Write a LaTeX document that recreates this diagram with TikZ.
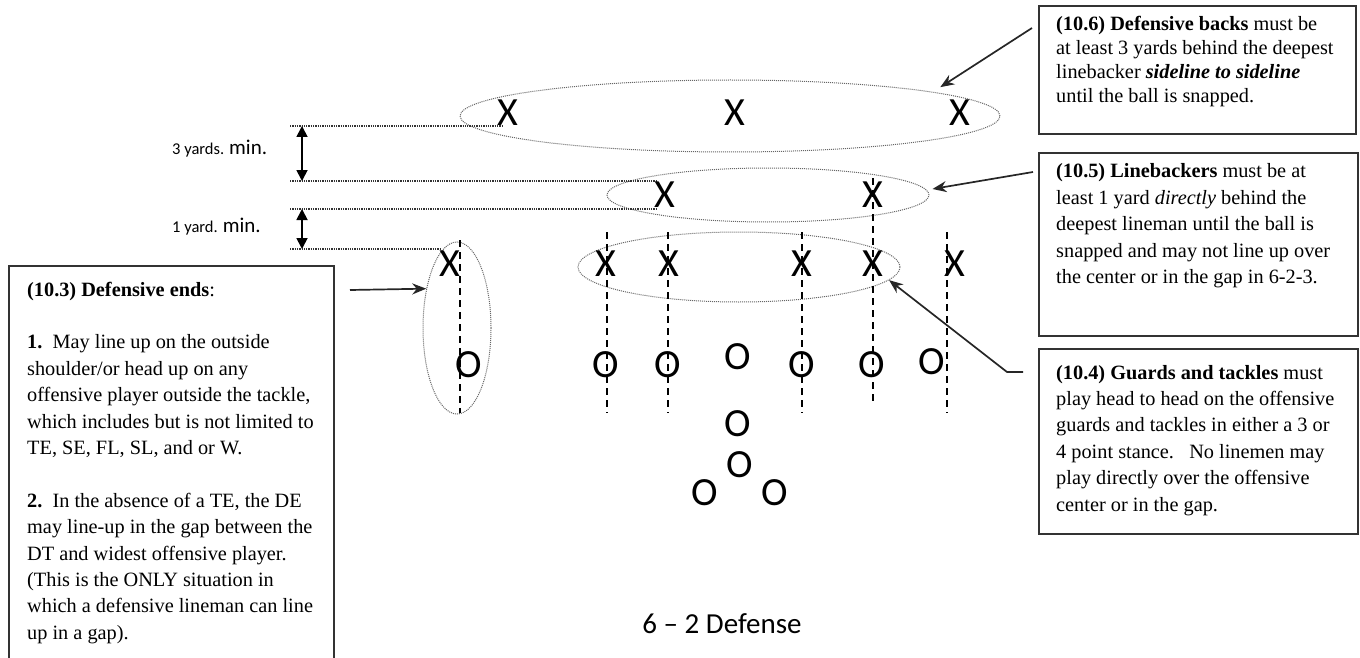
\documentclass[tikz,border=0pt]{standalone}
\usepackage{fontspec}
\setmainfont{Liberation Serif}
\newfontfamily\calib[Ligatures=TeX]{Carlito}
\usetikzlibrary{arrows.meta,shapes.geometric}

\newcommand\rulefont{\fontsize{20.3}{26.4}\selectfont}

\begin{document}
\begin{tikzpicture}[x=1pt,y=-1pt,
  rulebox/.style={draw=black!80, line width=2pt, fill=white, inner sep=0pt, anchor=north west},
  ruletext/.style={anchor=base west, inner sep=0pt},
  player/.style={font=\calib\fontsize{40}{40}\selectfont, inner sep=0pt},
  zone/.style={draw=black!60, line width=1pt, densely dotted, ellipse, inner sep=0pt},
  yardline/.style={draw=black!80, line width=1.3pt, densely dotted},
  lane/.style={draw=black, line width=1.1pt, dash pattern=on 7pt off 5pt},
  pointer/.style={draw=black!85, line width=1.7pt, -{Stealth[length=14pt,width=11pt]}},
  gapmark/.style={draw=black, line width=1.8pt, {Triangle[length=11pt,width=11pt]}-{Triangle[length=11pt,width=11pt]}},
  yardlabel/.style={anchor=base west, inner sep=0pt, font=\calib},
]
\useasboundingbox (0,0) rectangle (1360,658);

% ---- coverage zones ----
\node[zone, minimum width=540, minimum height=72] (dbzone) at (730,116) {};
\node[zone, minimum width=322, minimum height=54] (lbzone) at (768,195) {};
\node[zone, minimum width=322, minimum height=70] (dlzone) at (739,267) {};
\node[zone, minimum width=68, minimum height=172] (dezone) at (457,328) {};

% ---- vertical lanes ----
\foreach \n/\x/\ya/\yb in {l1/460/240/413, l2/607/232/413, l3/668/232/413,
                            l4/802/232/413, l5/873/178/405, l6/947/232/413} {
  \coordinate (\n top) at (\x,\ya);
  \coordinate (\n bot) at (\x,\yb);
  \draw[lane] (\n top) -- (\n bot);
}

% ---- depth reference lines ----
\coordinate (dbline s) at (290,126);  \coordinate (dbline e) at (503,126);
\coordinate (lbtop s)  at (290,181);  \coordinate (lbtop e)  at (657,181);
\coordinate (lbbot s)  at (290,209);  \coordinate (lbbot e)  at (657,209);
\coordinate (dlline s) at (290,249);  \coordinate (dlline e) at (440,249);
\draw[yardline] (dbline s) -- (dbline e);
\draw[yardline] (lbtop s) -- (lbtop e);
\draw[yardline] (lbbot s) -- (lbbot e);
\draw[yardline] (dlline s) -- (dlline e);

\coordinate (g1a) at (302,126); \coordinate (g1b) at (302,181);
\coordinate (g2a) at (302,209); \coordinate (g2b) at (302,249);
\draw[gapmark] (g1a) -- (g1b);
\draw[gapmark] (g2a) -- (g2b);

\node[yardlabel] (lab3) at (172,155) {\fontsize{16.5}{16.5}\selectfont 3 yards. \fontsize{21}{21}\selectfont min.};
\node[yardlabel] (lab1) at (172,232) {\fontsize{16.5}{16.5}\selectfont 1 yard. \fontsize{21}{21}\selectfont min.};

% ---- defense ----
\node[player] (db1) at (508,113) {X};
\node[player] (db2) at (735,113) {X};
\node[player] (db3) at (960,113) {X};
\node[player] (lb1) at (665,195) {X};
\node[player] (lb2) at (873,195) {X};
\node[player] (de1) at (450,264) {X};
\node[player] (dl1) at (606,264) {X};
\node[player] (dl2) at (669,264) {X};
\node[player] (dl3) at (802,264) {X};
\node[player] (dl4) at (873,264) {X};
\node[player] (de2) at (955,264) {X};

% ---- offense ----
\node[player] (o1) at (469,365) {O};
\node[player] (o2) at (606,365) {O};
\node[player] (o3) at (668,365) {O};
\node[player] (oc) at (738,357) {O};
\node[player] (o4) at (802,365) {O};
\node[player] (o5) at (872,365) {O};
\node[player] (o6) at (932,362) {O};
\node[player] (qb) at (738,424) {O};
\node[player] (fb) at (740,465) {O};
\node[player] (hb1) at (705,493) {O};
\node[player] (hb2) at (775,493) {O};

\node[font=\calib\fontsize{29}{29}\selectfont, inner sep=0pt] (title) at (722,624) {6 – 2 Defense};

% ---- rule boxes ----
\node[rulebox, minimum width=325, minimum height=400] (b103) at (8,265) {};
\node[ruletext] (t103) at (27,296) {\parbox[t]{310pt}{\rulefont\raggedright
  \textbf{(10.3) Defensive ends}:\\[26.4pt]
  \textbf{1.}\ \ May line up on the outside\\
  shoulder/or head up on any\\
  offensive player outside the tackle,\\
  which includes but is not limited to\\
  TE, SE, FL, SL, and or W.\\[26.4pt]
  \textbf{2.}\ \ In the absence of a TE, the DE\\
  may line-up in the gap between the\\
  DT and widest offensive player.\\
  (This is the ONLY situation in\\
  which a defensive lineman can line\\
  up in a gap).}};

\node[rulebox, minimum width=317, minimum height=128] (b106) at (1038,5) {};
\node[ruletext] (t106) at (1056,31) {\parbox[t]{300pt}{\fontsize{20.3}{24}\selectfont\raggedright
  \textbf{(10.6) Defensive backs} must be\\
  at least 3 yards behind the deepest\\
  linebacker \textbf{\textit{sideline to sideline}}\\
  until the ball is snapped.}};

\node[rulebox, minimum width=319, minimum height=183] (b105) at (1038,152) {};
\node[ruletext] (t105) at (1056,178) {\parbox[t]{300pt}{\rulefont\raggedright
  \textbf{(10.5) Linebackers} must be at\\
  least 1 yard \textit{directly} behind the\\
  deepest lineman until the ball is\\
  snapped and may not line up over\\
  the center or in the gap in 6-2-3.}};

\node[rulebox, minimum width=319, minimum height=185] (b104) at (1038,348) {};
\node[ruletext] (t104) at (1056,379) {\parbox[t]{300pt}{\rulefont\raggedright
  \textbf{(10.4) Guards and tackles} must\\
  play head to head on the offensive\\
  guards and tackles in either a 3 or\\
  4 point stance.\ \ \ No linemen may\\
  play directly over the offensive\\
  center or in the gap.}};

% ---- pointers from rules to zones ----
\draw[pointer] ([xshift=-6pt,yshift=-23pt]b106.north west) -- ([xshift=19pt,yshift=3pt]dbzone.north east);
\draw[pointer] ([xshift=-5pt,yshift=-20pt]b105.north west) -- ([xshift=3pt,yshift=6pt]lbzone.east);
\draw[pointer] ([xshift=-15pt,yshift=-24pt]b104.north west) -- ++(-16,0) -- (dlzone.-5.5);
\draw[pointer] ([xshift=15pt,yshift=-25pt]b103.north east) -- (dezone.128.7);
\end{tikzpicture}
\end{document}
